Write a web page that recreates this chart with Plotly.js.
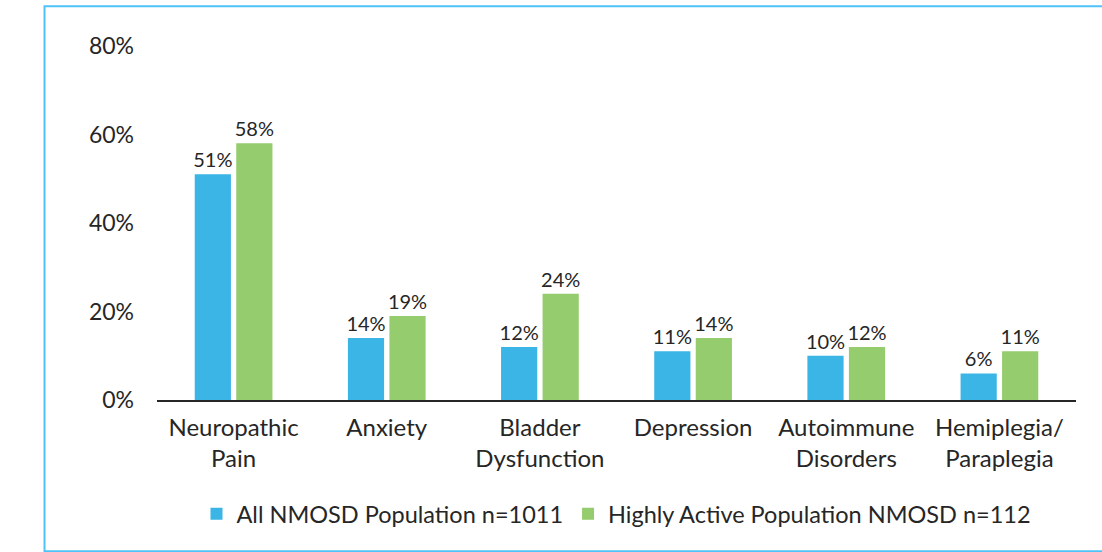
<!DOCTYPE html>
<html>
<head>
<meta charset="utf-8">
<script src="https://cdn.plot.ly/plotly-3.0.1.min.js"></script>
<style>
html,body{margin:0;padding:0;background:#fff;}
#chart{width:1102px;height:552px;}
</style>
</head>
<body>
<div id="chart"></div>
<script>
const categories = ["Neuropathic<br>Pain", "Anxiety", "Bladder<br>Dysfunction", "Depression", "Autoimmune<br>Disorders", "Hemiplegia/<br>Paraplegia"];
const allPopulation = [51, 14, 12, 11, 10, 6];
const highlyActive = [58, 19, 24, 14, 12, 11];
const seriesNames = ["All NMOSD Population n=1011", "Highly Active Population NMOSD n=112"];
const yTickVals = [0, 20, 40, 60, 80];
const yTickText = ["0%", "20%", "40%", "60%", "80%"];

const FONT = "Lato, 'Open Sans', sans-serif";
const TXT = "#262626";

const traces = [
  {
    type: "bar", name: seriesNames[0], x: categories, y: allPopulation,
    marker: {color: "#3BB5E6"},
    text: allPopulation.map(v => v + "%"), textposition: "outside",
    constraintext: "none",
    textfont: {family: FONT, size: 20, color: TXT}, cliponaxis: false,
    hoverinfo: "skip"
  },
  {
    type: "bar", name: seriesNames[1], x: categories, y: highlyActive,
    marker: {color: "#95CC6E"},
    text: highlyActive.map(v => v + "%"), textposition: "outside",
    constraintext: "none",
    textfont: {family: FONT, size: 20, color: TXT}, cliponaxis: false,
    hoverinfo: "skip"
  }
];

const layout = {
  width: 1102, height: 552,
  margin: {l: 157, r: 26, t: 46, b: 152, pad: 0},
  paper_bgcolor: "#ffffff", plot_bgcolor: "#ffffff",
  font: {family: FONT, size: 23, color: TXT},
  barmode: "group", bargap: 0.458, bargroupgap: 0.128,
  showlegend: true,
  legend: {orientation: "h", x: 0.5, xanchor: "center", y: -0.322, yanchor: "middle",
           font: {family: FONT, size: 23.5, color: TXT}, traceorder: "normal"},
  xaxis: {
    type: "category", showgrid: false, zeroline: false,
    showline: true, linecolor: "#262626", linewidth: 2,
    ticks: "", ticklabelstandoff: 5,
    tickfont: {family: FONT, size: 24, color: TXT}
  },
  yaxis: {
    range: [0, 80], showgrid: false, zeroline: false, showline: false,
    tickvals: yTickVals, ticktext: yTickText, ticks: "",
    ticklabelstandoff: 22,
    tickfont: {family: FONT, size: 23, color: TXT}
  },
  shapes: [{
    type: "rect", xref: "paper", yref: "paper",
    x0: -0.1224, x1: 1.04, y0: -0.427, y1: 1.112,
    line: {color: "#4FC3F7", width: 2}, fillcolor: "rgba(0,0,0,0)", layer: "below"
  }]
};

Plotly.newPlot("chart", traces, layout, {displayModeBar: false, staticPlot: true});
</script>
</body>
</html>
